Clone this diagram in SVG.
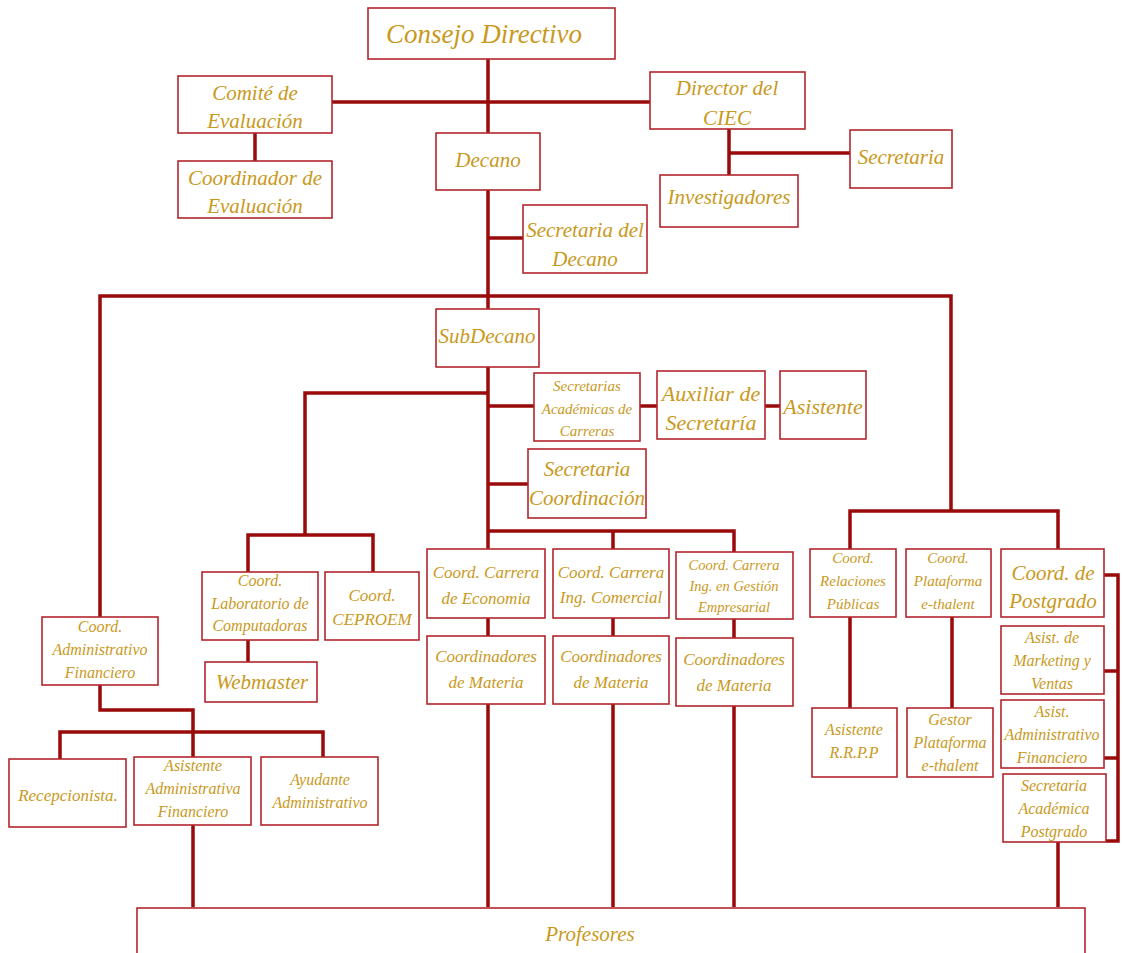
<svg xmlns="http://www.w3.org/2000/svg" width="1122" height="953" viewBox="0 0 1122 953">
<style>
.bg{fill:#ffffff}
.box{fill:#ffffff;stroke:#b3262e;stroke-width:1.6}
.ln{fill:none;stroke:#990a0a;stroke-width:3.5;stroke-linejoin:miter;stroke-linecap:butt}
text{font-family:"Liberation Serif","DejaVu Serif",serif;font-style:italic;fill:#c9991c;text-anchor:middle}
.f27{font-size:27px}
.f22{font-size:22px}
.f21{font-size:21px}
.f17{font-size:17px}
.f16{font-size:16px}
.f15{font-size:15px}
.f14{font-size:14.5px}
</style>
<rect class="bg" x="0" y="0" width="1122" height="953"/>
<g id="connectors">
<path class="ln" d="M488 59 V907"/>
<path class="ln" d="M332 102 H650"/>
<path class="ln" d="M255 133 V161"/>
<path class="ln" d="M729 129 V175 M729 153 H850"/>
<path class="ln" d="M488 238 H523"/>
<path class="ln" d="M100 617 V296 H951 V511"/>
<path class="ln" d="M850 549 V511 H1058 V549"/>
<path class="ln" d="M488 393 H305 V535 M248 572 V535 H373 V572"/>
<path class="ln" d="M488 406 H534 M640 406 H657 M765 406 H780"/>
<path class="ln" d="M488 484 H528"/>
<path class="ln" d="M488 531 H734 V552 M613 531 V549"/>
<path class="ln" d="M613 618 V907 M734 619 V907"/>
<path class="ln" d="M248 640 V662"/>
<path class="ln" d="M100 685 V710 H193 V757 M60 759 V732 H323 V757"/>
<path class="ln" d="M193 825 V907"/>
<path class="ln" d="M850 617 V708 M952 617 V708"/>
<path class="ln" d="M1104 575 H1118 V841 H1106 M1104 671 H1118 M1104 758 H1118"/>
<path class="ln" d="M1058 842 V907"/>
</g>
<g id="consejo"><rect class="box" x="368" y="8" width="247" height="51"/><text class="f27" x="484" y="43">Consejo Directivo</text></g>
<g id="comite"><rect class="box" x="178" y="76" width="154" height="57"/><text class="f21" x="255" y="100">Comité de</text><text class="f21" x="255" y="128">Evaluación</text></g>
<g id="director"><rect class="box" x="650" y="72" width="155" height="57"/><text class="f21" x="727" y="95">Director del</text><text class="f21" x="727" y="125">CIEC</text></g>
<g id="coordEval"><rect class="box" x="178" y="161" width="154" height="57"/><text class="f21" x="255" y="185">Coordinador de</text><text class="f21" x="255" y="213">Evaluación</text></g>
<g id="decano"><rect class="box" x="436" y="133" width="104" height="57"/><text class="f21" x="488" y="167">Decano</text></g>
<g id="secretaria"><rect class="box" x="850" y="130" width="102" height="58"/><text class="f21" x="901" y="164">Secretaria</text></g>
<g id="investigadores"><rect class="box" x="660" y="175" width="138" height="52"/><text class="f21" x="729" y="204">Investigadores</text></g>
<g id="secDecano"><rect class="box" x="523" y="205" width="124" height="68"/><text class="f21" x="585" y="237">Secretaria del</text><text class="f21" x="585" y="266">Decano</text></g>
<g id="subdecano"><rect class="box" x="436" y="309" width="103" height="58"/><text class="f21" x="487" y="343">SubDecano</text></g>
<g id="secAcad"><rect class="box" x="534" y="373" width="106" height="68"/><text class="f15" x="587" y="391">Secretarias</text><text class="f15" x="587" y="414">Académicas de</text><text class="f15" x="587" y="436">Carreras</text></g>
<g id="auxiliar"><rect class="box" x="657" y="371" width="108" height="68"/><text class="f22" x="711" y="401">Auxiliar de</text><text class="f22" x="711" y="430">Secretaría</text></g>
<g id="asistente"><rect class="box" x="780" y="371" width="86" height="68"/><text class="f22" x="823" y="414">Asistente</text></g>
<g id="secCoord"><rect class="box" x="528" y="449" width="118" height="69"/><text class="f21" x="587" y="476">Secretaria</text><text class="f21" x="587" y="505">Coordinación</text></g>
<g id="coordLab"><rect class="box" x="202" y="572" width="116" height="68"/><text class="f16" x="260" y="586">Coord.</text><text class="f16" x="260" y="609">Laboratorio de</text><text class="f16" x="260" y="631">Computadoras</text></g>
<g id="ceproem"><rect class="box" x="325" y="572" width="94" height="68"/><text class="f17" x="372" y="601">Coord.</text><text class="f17" x="372" y="625">CEPROEM</text></g>
<g id="webmaster"><rect class="box" x="205" y="662" width="112" height="40"/><text class="f21" x="262" y="689">Webmaster</text></g>
<g id="coordAdmin"><rect class="box" x="42" y="617" width="116" height="68"/><text class="f16" x="100" y="632">Coord.</text><text class="f16" x="100" y="655">Administrativo</text><text class="f16" x="100" y="678">Financiero</text></g>
<g id="recepcionista"><rect class="box" x="9" y="759" width="117" height="68"/><text class="f17" x="68" y="801">Recepcionista.</text></g>
<g id="asistAdmin"><rect class="box" x="134" y="757" width="117" height="68"/><text class="f16" x="193" y="771">Asistente</text><text class="f16" x="193" y="794">Administrativa</text><text class="f16" x="193" y="817">Financiero</text></g>
<g id="ayudante"><rect class="box" x="261" y="757" width="117" height="68"/><text class="f16" x="320" y="785">Ayudante</text><text class="f16" x="320" y="808">Administrativo</text></g>
<g id="coordEconomia"><rect class="box" x="427" y="549" width="118" height="69"/><text class="f17" x="486" y="578">Coord. Carrera</text><text class="f17" x="486" y="604">de Economia</text></g>
<g id="coordComercial"><rect class="box" x="553" y="549" width="116" height="69"/><text class="f17" x="611" y="578">Coord. Carrera</text><text class="f17" x="611" y="603">Ing. Comercial</text></g>
<g id="coordGestion"><rect class="box" x="676" y="552" width="117" height="67"/><text class="f14" x="734" y="570">Coord. Carrera</text><text class="f14" x="734" y="591">Ing. en Gestión</text><text class="f14" x="734" y="612">Empresarial</text></g>
<g id="coordMat1"><rect class="box" x="427" y="636" width="118" height="68"/><text class="f17" x="486" y="662">Coordinadores</text><text class="f17" x="486" y="688">de Materia</text></g>
<g id="coordMat2"><rect class="box" x="553" y="636" width="116" height="68"/><text class="f17" x="611" y="662">Coordinadores</text><text class="f17" x="611" y="688">de Materia</text></g>
<g id="coordMat3"><rect class="box" x="676" y="638" width="117" height="68"/><text class="f17" x="734" y="665">Coordinadores</text><text class="f17" x="734" y="691">de Materia</text></g>
<g id="coordRRPP"><rect class="box" x="810" y="549" width="86" height="68"/><text class="f15" x="853" y="563">Coord.</text><text class="f15" x="853" y="586">Relaciones</text><text class="f15" x="853" y="609">Públicas</text></g>
<g id="coordPlataforma"><rect class="box" x="906" y="549" width="85" height="68"/><text class="f15" x="948" y="563">Coord.</text><text class="f15" x="948" y="586">Plataforma</text><text class="f15" x="948" y="609">e-thalent</text></g>
<g id="coordPostgrado"><rect class="box" x="1001" y="549" width="103" height="68"/><text class="f21" x="1053" y="580">Coord. de</text><text class="f21" x="1053" y="608">Postgrado</text></g>
<g id="asistRRPP"><rect class="box" x="812" y="708" width="85" height="69"/><text class="f16" x="854" y="735">Asistente</text><text class="f16" x="854" y="758">R.R.P.P</text></g>
<g id="gestor"><rect class="box" x="907" y="708" width="86" height="69"/><text class="f16" x="950" y="725">Gestor</text><text class="f16" x="950" y="748">Plataforma</text><text class="f16" x="950" y="771">e-thalent</text></g>
<g id="marketing"><rect class="box" x="1001" y="626" width="103" height="68"/><text class="f16" x="1052" y="643">Asist. de</text><text class="f16" x="1052" y="666">Marketing y</text><text class="f16" x="1052" y="689">Ventas</text></g>
<g id="asistAdmFin"><rect class="box" x="1001" y="700" width="103" height="68"/><text class="f16" x="1052" y="717">Asist.</text><text class="f16" x="1052" y="740">Administrativo</text><text class="f16" x="1052" y="763">Financiero</text></g>
<g id="secAcadPostgrado"><rect class="box" x="1003" y="774" width="103" height="68"/><text class="f16" x="1054" y="791">Secretaria</text><text class="f16" x="1054" y="814">Académica</text><text class="f16" x="1054" y="837">Postgrado</text></g>
<g id="profesores"><rect class="box" x="137" y="908" width="948" height="50"/><text class="f21" x="590" y="941">Profesores</text></g>
</svg>
